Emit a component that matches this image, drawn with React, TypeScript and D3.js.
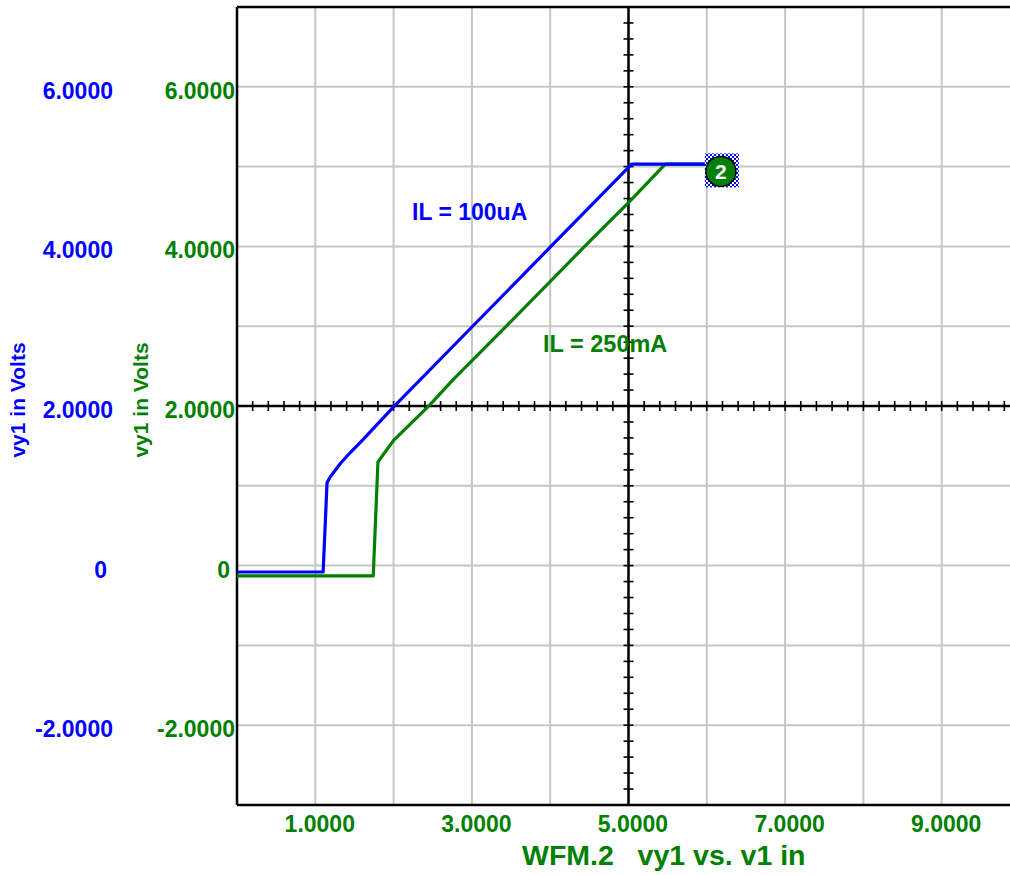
import * as d3 from 'd3';
import React from 'react';

// curve IL = 100uA (blue)
const blueX = [0, 1.1, 1.15, 1.19, 1.32, 1.45, 1.6, 2.0, 3.0, 4.0, 5.0, 5.04, 6.17];
const blueY = [-0.08, -0.08, 1.04, 1.11, 1.28, 1.42, 1.57, 1.99, 2.99, 3.99, 4.99, 5.03, 5.03];
// curve IL = 250mA (green)
const greenX = [0, 1.74, 1.8, 1.89, 2.0, 2.2, 2.46, 2.76, 3.5, 4.5, 5.0, 5.47, 6.17];
const greenY = [-0.13, -0.13, 1.3, 1.42, 1.57, 1.76, 2.01, 2.33, 3.06, 4.06, 4.55, 5.03, 5.03];

const yTickValues = [-2, 0, 2, 4, 6];
const xTickValues = [1, 3, 5, 7, 9];
const xGrid = [1, 2, 3, 4, 5, 6, 7, 8, 9];
const yGrid = [-2, -1, 0, 1, 2, 3, 4, 5, 6];
const marker = { x: 6.18, y: 4.94, label: '2' };

const BLUE = '#0000ff';
const GREEN = '#008000';
const FONT = '"Liberation Sans", Arial, sans-serif';

export default function App() {
    const width = 1010;
    const height = 875;
    const x = d3.scaleLinear().domain([0, 10]).range([237, 1020]);
    const y = d3.scaleLinear().domain([-3, 7]).range([805, 7]);

    const line = d3
        .line<[number, number]>()
        .x((d) => x(d[0]))
        .y((d) => y(d[1]));
    const bluePts = blueX.map((v, i) => [v, blueY[i]] as [number, number]);
    const greenPts = greenX.map((v, i) => [v, greenY[i]] as [number, number]);

    // plain hyphen for negatives, like the original
    const fmt = (v: number) => (v === 0 ? '0' : v.toFixed(4));
    const minorX = d3.range(0, 10.01, 0.2);
    const minorY = d3.range(-3, 7.01, 0.2);
    const axX = x(5);
    const axY = y(2);

    return (
        <svg width={width} height={height} style={{ position: 'absolute', left: 0, top: 0, background: '#fff' }}>
            <defs>
                <pattern id="checker" width="4" height="4" patternUnits="userSpaceOnUse">
                    <rect width="4" height="4" fill="#fff" />
                    <rect width="2" height="2" fill={BLUE} />
                    <rect x="2" y="2" width="2" height="2" fill={BLUE} />
                </pattern>
                <clipPath id="plot">
                    <rect x={x(0)} y={y(7)} width={x(10) - x(0)} height={y(-3) - y(7)} />
                </clipPath>
            </defs>

            {/* grid */}
            {xGrid.map((v) => (
                <line key={'gx' + v} x1={x(v)} x2={x(v)} y1={y(7)} y2={y(-3)} stroke="#c2c8c2" strokeWidth={2} />
            ))}
            {yGrid.map((v) => (
                <line key={'gy' + v} x1={x(0)} x2={x(10)} y1={y(v)} y2={y(v)} stroke="#c2c8c2" strokeWidth={2} />
            ))}

            {/* center axes with minor ticks */}
            <line x1={axX} x2={axX} y1={y(7)} y2={y(-3)} stroke="#000" strokeWidth={2.5} />
            <line x1={x(0)} x2={x(10)} y1={axY} y2={axY} stroke="#000" strokeWidth={2.5} />
            {minorX.map((v) => (
                <line key={'tx' + v} x1={x(v)} x2={x(v)} y1={axY - 5} y2={axY + 5} stroke="#000" strokeWidth={1.6} />
            ))}
            {minorY.map((v) => (
                <line key={'ty' + v} x1={axX - 5} x2={axX + 5} y1={y(v)} y2={y(v)} stroke="#000" strokeWidth={1.6} />
            ))}

            {/* frame */}
            <line x1={x(0)} x2={x(10)} y1={y(7)} y2={y(7)} stroke="#000" strokeWidth={2.5} />
            <line x1={x(0)} x2={x(10)} y1={y(-3)} y2={y(-3)} stroke="#000" strokeWidth={2.5} />
            <line x1={x(0)} x2={x(0)} y1={y(7)} y2={y(-3)} stroke="#000" strokeWidth={2.5} />

            {/* curves */}
            <g clipPath="url(#plot)">
                <path d={line(greenPts)!} fill="none" stroke={GREEN} strokeWidth={3.2} strokeLinejoin="round" />
                <path d={line(bluePts)!} fill="none" stroke={BLUE} strokeWidth={3.2} strokeLinejoin="round" />
            </g>

            {/* marker */}
            <rect x={x(marker.x) - 16} y={y(marker.y) - 18} width={34} height={34} fill="url(#checker)" />
            <circle cx={x(marker.x)} cy={y(marker.y)} r={15} fill={GREEN} stroke="#000" strokeWidth={1.5} />
            <text
                x={x(marker.x)}
                y={y(marker.y) + 7.5}
                textAnchor="middle"
                fill="#fff"
                fontFamily={FONT}
                fontWeight="bold"
                fontSize={21}
            >
                {marker.label}
            </text>

            {/* curve labels */}
            <text x={412} y={220} fill={BLUE} fontFamily={FONT} fontWeight="bold" fontSize={23}>
                IL = 100uA
            </text>
            <text x={543} y={352} fill={GREEN} fontFamily={FONT} fontWeight="bold" fontSize={23.5}>
                IL = 250mA
            </text>

            {/* y tick labels, two axes */}
            {yTickValues.map((v) => (
                <text
                    key={'by' + v}
                    x={v === 0 ? 107 : 113}
                    y={y(v) + 12}
                    textAnchor="end"
                    fill={BLUE}
                    fontFamily={FONT}
                    fontWeight="bold"
                    fontSize={23}
                >
                    {fmt(v)}
                </text>
            ))}
            {yTickValues.map((v) => (
                <text
                    key={'gy' + v}
                    x={v === 0 ? 230 : 235}
                    y={y(v) + 12}
                    textAnchor="end"
                    fill={GREEN}
                    fontFamily={FONT}
                    fontWeight="bold"
                    fontSize={23}
                >
                    {fmt(v)}
                </text>
            ))}
            <text
                transform="translate(25,400) rotate(-90)"
                textAnchor="middle"
                fill={BLUE}
                fontFamily={FONT}
                fontWeight="bold"
                fontSize={21}
            >
                vy1 in Volts
            </text>
            <text
                transform="translate(148,400) rotate(-90)"
                textAnchor="middle"
                fill={GREEN}
                fontFamily={FONT}
                fontWeight="bold"
                fontSize={21}
            >
                vy1 in Volts
            </text>

            {/* x tick labels */}
            {xTickValues.map((v) => (
                <text
                    key={'xl' + v}
                    x={x(v) + 4.5}
                    y={832}
                    textAnchor="middle"
                    fill={GREEN}
                    fontFamily={FONT}
                    fontWeight="bold"
                    fontSize={23}
                >
                    {fmt(v)}
                </text>
            ))}
            <text
                x={522}
                y={865}
                fill={GREEN}
                fontFamily={FONT}
                fontWeight="bold"
                fontSize={28.5}
                style={{ whiteSpace: 'pre' }}
            >
                {'WFM.2   vy1 vs. v1 in'}
            </text>
        </svg>
    );
}
